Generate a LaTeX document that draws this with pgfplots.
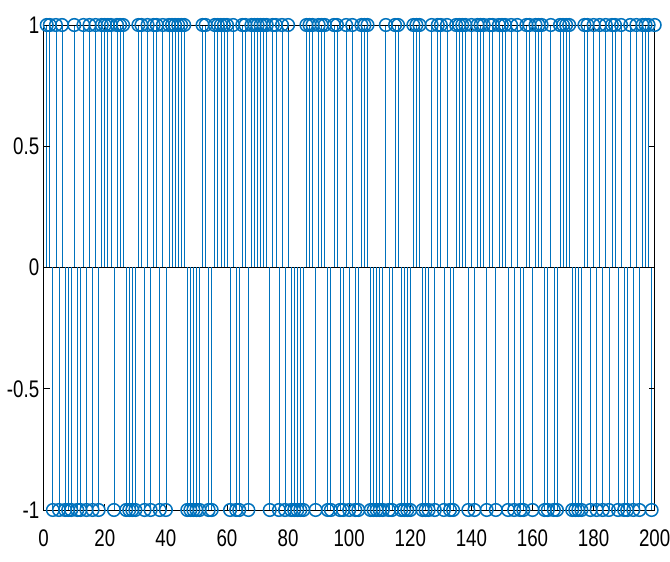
\documentclass[border=0pt]{standalone}
\usepackage{pgfplots}
\pgfplotsset{compat=1.18}
\usepackage{pgfplotstable}
\usepackage{fontspec}
\setmainfont{Liberation Sans}[FakeStretch=0.78]
\definecolor{mblue}{rgb}{0,0.447,0.741}
\pgfplotstableread[row sep=\\]{
x y\\
1 1\\ 2 1\\ 3 -1\\ 4 1\\ 5 -1\\ 6 1\\ 7 -1\\ 8 -1\\ 9 -1\\ 10 1\\
11 -1\\ 12 -1\\ 13 1\\ 14 -1\\ 15 1\\ 16 -1\\ 17 1\\ 18 -1\\ 19 1\\ 20 1\\
21 1\\ 22 1\\ 23 -1\\ 24 1\\ 25 1\\ 26 1\\ 27 -1\\ 28 -1\\ 29 -1\\ 30 -1\\
31 1\\ 32 1\\ 33 -1\\ 34 1\\ 35 -1\\ 36 1\\ 37 1\\ 38 -1\\ 39 1\\ 40 -1\\
41 1\\ 42 1\\ 43 1\\ 44 1\\ 45 1\\ 46 1\\ 47 -1\\ 48 -1\\ 49 -1\\ 50 -1\\
51 -1\\ 52 1\\ 53 1\\ 54 -1\\ 55 -1\\ 56 1\\ 57 1\\ 58 1\\ 59 1\\ 60 1\\
61 -1\\ 62 1\\ 63 -1\\ 64 -1\\ 65 1\\ 66 1\\ 67 -1\\ 68 1\\ 69 1\\ 70 1\\
71 1\\ 72 1\\ 73 1\\ 74 -1\\ 75 1\\ 76 1\\ 77 -1\\ 78 1\\ 79 -1\\ 80 1\\
81 -1\\ 82 -1\\ 83 -1\\ 84 -1\\ 85 -1\\ 86 1\\ 87 1\\ 88 1\\ 89 -1\\ 90 1\\
91 1\\ 92 1\\ 93 -1\\ 94 -1\\ 95 1\\ 96 1\\ 97 -1\\ 98 -1\\ 99 1\\ 100 -1\\
101 1\\ 102 -1\\ 103 -1\\ 104 1\\ 105 1\\ 106 1\\ 107 -1\\ 108 -1\\ 109 -1\\ 110 -1\\
111 -1\\ 112 1\\ 113 -1\\ 114 -1\\ 115 1\\ 116 1\\ 117 -1\\ 118 -1\\ 119 -1\\ 120 -1\\
121 1\\ 122 1\\ 123 1\\ 124 -1\\ 125 -1\\ 126 -1\\ 127 1\\ 128 -1\\ 129 1\\ 130 1\\
131 -1\\ 132 1\\ 133 -1\\ 134 -1\\ 135 1\\ 136 1\\ 137 1\\ 138 1\\ 139 -1\\ 140 1\\
141 -1\\ 142 1\\ 143 1\\ 144 1\\ 145 -1\\ 146 1\\ 147 1\\ 148 -1\\ 149 1\\ 150 1\\
151 1\\ 152 -1\\ 153 1\\ 154 -1\\ 155 1\\ 156 -1\\ 157 -1\\ 158 1\\ 159 1\\ 160 -1\\
161 1\\ 162 1\\ 163 1\\ 164 -1\\ 165 -1\\ 166 1\\ 167 -1\\ 168 -1\\ 169 1\\ 170 1\\
171 1\\ 172 1\\ 173 -1\\ 174 -1\\ 175 -1\\ 176 -1\\ 177 1\\ 178 1\\ 179 -1\\ 180 1\\
181 -1\\ 182 1\\ 183 -1\\ 184 1\\ 185 -1\\ 186 1\\ 187 1\\ 188 -1\\ 189 1\\ 190 -1\\
191 -1\\ 192 1\\ 193 -1\\ 194 1\\ 195 -1\\ 196 1\\ 197 1\\ 198 1\\ 199 -1\\ 200 1\\
}\signal
\begin{document}
\begin{tikzpicture}
\begin{axis}[
  width=611pt, height=485pt, scale only axis,
  xmin=0, xmax=200, ymin=-1, ymax=1,
  xtick={0,20,...,200},
  ytick={-1,-0.5,0,0.5,1},
  yticklabels={-1,-0.5,0,0.5,1},
  xticklabels={0,20,40,60,80,100,120,140,160,180,200},
  tick label style={font=\fontsize{24}{28}\selectfont, black},
  tick align=inside,
  major tick length=6pt,
  tick style={black, line width=0.6pt},
  axis line style={black, line width=0.9pt},
  axis on top,
  clip=false,
  xtick pos=both, ytick pos=both,
  xticklabel style={yshift=-16pt},
  yticklabel style={xshift=-1pt},
]
\addplot[black, line width=0.8pt] coordinates {(0,0) (200,0)};
\addplot[mblue, line width=0.75pt, ycomb, mark=o, mark size=6.3pt, mark options={line width=1.5pt, fill=none}] table[x=x,y=y] {\signal};
\end{axis}
\pgfresetboundingbox
\path ([shift={(-43.7pt,-52pt)}]current axis.south west) rectangle ([shift={(15.3pt,25pt)}]current axis.north east);
\end{tikzpicture}
\end{document}
